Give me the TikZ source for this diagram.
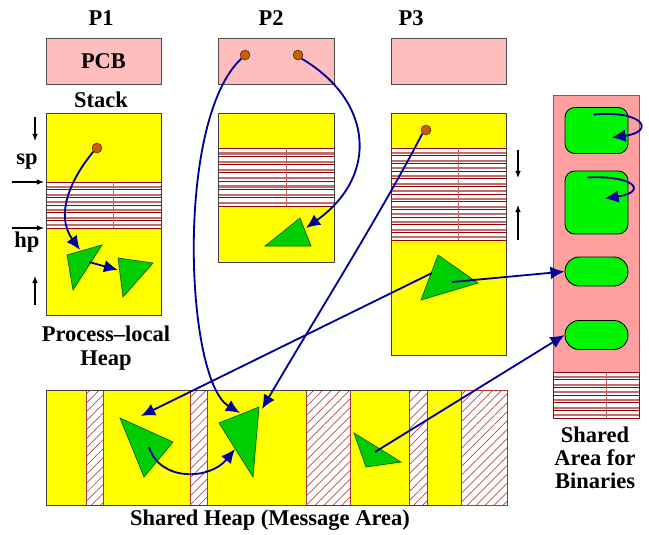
\documentclass[tikz,border=0pt]{standalone}
\usepackage{fontspec}
\setmainfont{Liberation Serif}
\newfontfamily\lblfont[Ligatures=TeX]{Liberation Serif}
\usepackage{tikz}
\usetikzlibrary{arrows.meta, patterns.meta, calc}
\definecolor{pcbPink}{RGB}{255,190,190}
\definecolor{binPink}{RGB}{255,160,160}
\definecolor{heapYellow}{RGB}{255,255,0}
\definecolor{objGreen}{RGB}{0,205,0}
\definecolor{codeGreen}{RGB}{0,245,0}
\definecolor{dotOrange}{RGB}{200,95,0}
\definecolor{ptrBlue}{RGB}{0,0,150}
\definecolor{stripeRed}{RGB}{150,0,0}
\definecolor{stripeLight}{RGB}{190,110,110}

\tikzset{
    lbl/.style={font=\lblfont\bfseries\fontsize{16}{16.5}\selectfont, align=center},
    pcbbox/.style={fill=pcbPink, draw=black!70, line width=0.6pt},
    memarea/.style={fill=heapYellow, draw=black!75, line width=0.6pt},
    freearea/.style={preaction={fill=white}, pattern={Lines[angle=45, distance=4.5pt, line width=0.5pt]}, pattern color=stripeRed!70, draw=stripeRed!80},
    obj/.style={fill=objGreen, draw=black!60!green, line width=0.5pt},
    ptrdot/.style={circle, fill=dotOrange, draw=black!60!dotOrange, inner sep=0pt, minimum size=7pt},
    bincode/.style={fill=codeGreen, draw=black, line width=0.6pt, inner sep=0pt},
    ptr/.style={ptrBlue, line width=1.3pt, -{Latex[length=10pt,width=9pt]}},
    mark arrow/.style={black, line width=0.8pt, -{Latex[length=5pt,width=4pt]}},
}

% striped (stack) region: x1 x2 y1 y2 n
\newcommand{\stackstripes}[5]{%
    \fill[white] (#1,#3) rectangle (#2,#4);
    \foreach \k in {1,...,#5}{
        \draw[stripeLight, line width=1.6pt] (#1,{#3+(\k-0.35)*(#4-#3)/#5}) -- (#2,{#3+(\k-0.35)*(#4-#3)/#5});
    }
    \foreach \k in {0,...,#5}{
        \draw[stripeRed, line width=0.7pt] (#1,{#3+\k*(#4-#3)/#5}) -- (#2,{#3+\k*(#4-#3)/#5});
    }
    \draw[stripeRed!60, line width=0.2pt] ({(#1+#2)/2+10},#3) -- ({(#1+#2)/2+10},#4);
}

\begin{document}
\begin{tikzpicture}[x=0.025cm, y=-0.025cm]
    \useasboundingbox (0,0) rectangle (649,534);

    % process names and PCBs
    \node[lbl] (p1) at (101,18) {P1};
    \node[lbl] (p2) at (271,18) {P2};
    \node[lbl] (p3) at (411,18) {P3};
    \draw[pcbbox] (46,38) rectangle (161,84);
    \draw[pcbbox] (218,38) rectangle (334,84);
    \draw[pcbbox] (391,38) rectangle (506,84);
    \node[lbl] (pcb) at (103.5,61) {PCB};
    \node[lbl] (stack) at (101,100) {Stack};

    % P1 stack and heap
    \draw[memarea] (46,113) rectangle (161,315);
    \stackstripes{46}{161}{182}{228}{6}
    \draw[black!75, line width=0.6pt] (46,113) rectangle (161,315);
    % P2
    \draw[memarea] (218,113) rectangle (334,262);
    \stackstripes{218}{334}{148}{206}{7}
    \draw[black!75, line width=0.6pt] (218,113) rectangle (334,262);
    % P3
    \draw[memarea] (391,113) rectangle (506,355);
    \stackstripes{391}{506}{148}{240}{12}
    \draw[black!75, line width=0.6pt] (391,113) rectangle (506,355);

    % sp / hp markers
    \node[lbl] (sp) at (27,162) {sp};
    \node[lbl] (hp) at (27,242) {hp};
    \coordinate (spT) at (44,182);
    \coordinate (hpT) at (44,228);
    \draw[mark arrow] (12,182) -- (spT);
    \draw[mark arrow] (12,228) -- (hpT);
    \draw[mark arrow] (35,117) -- (35,141);
    \draw[mark arrow] (35,305) -- (35,276);
    \draw[mark arrow] (518,150) -- (518,178);
    \draw[mark arrow] (518,240) -- (518,205);

    \node[lbl] (localheap) at (106,348) {Process–local\\Heap};

    % shared area for binaries
    \draw[fill=binPink, draw=black!60, line width=0.6pt] (553,95) rectangle (639,418);
    \stackstripes{553}{639}{372}{418}{6}
    \draw[stripeRed, line width=0.6pt] (553,372) rectangle (639,418);
    \node[bincode, rounded corners=7pt, minimum width=1.575cm, minimum height=1.15cm] (b1) at (596.5,130.5) {};
    \node[bincode, rounded corners=7pt, minimum width=1.575cm, minimum height=1.575cm] (b2) at (596.5,202.5) {};
    \node[bincode, rounded corners=10pt, minimum width=1.575cm, minimum height=0.725cm] (b3) at (596.5,271.5) {};
    \node[bincode, rounded corners=10pt, minimum width=1.575cm, minimum height=0.725cm] (b4) at (596.5,335) {};
    \node[lbl] (binlbl) at (595,458) {Shared\\Area for\\Binaries};

    % shared heap
    \draw[memarea] (46,390) rectangle (507,505);
    \foreach \a/\b in {86/103, 190/207, 306/350, 409/427, 461/507}{
        \draw[freearea] (\a,390) rectangle (\b,505);
    }
    \draw[black!75, line width=0.6pt] (46,390) -- (461,390) (46,390) -- (46,505) -- (461,505);
    \node[lbl] (sharedlbl) at (270,520) {Shared Heap (Message Area)};

    % objects
    \draw[obj] (67,255) -- (102,245) -- (73,290) -- cycle;
    \draw[obj] (118,258) -- (153,263) -- (123,297) -- cycle;
    \draw[obj] (300,218) -- (311,246) -- (265,246) -- cycle;
    \draw[obj] (438,255) -- (478,283) -- (421,300) -- cycle;
    \draw[obj] (120,418) -- (173,442) -- (144,477) -- cycle;
    \draw[obj] (219,423) -- (259,407) -- (253,477) -- cycle;
    \draw[obj] (354,433) -- (401,462) -- (366,467) -- cycle;

    % pointers
    \node[ptrdot] (d1) at (97,148) {};
    \node[ptrdot] (d2) at (245,55) {};
    \node[ptrdot] (d3) at (298,55) {};
    \node[ptrdot] (d4) at (426,130) {};
    \coordinate (o1) at (80,250);
    \coordinate (o1s) at (89,262);
    \coordinate (o2) at (118,270);
    \coordinate (o3) at (306,228);
    \coordinate (o4a) at (432,273);
    \coordinate (o4b) at (452,282);
    \coordinate (s1) at (141,416);
    \coordinate (s1s) at (149,447);
    \coordinate (s2a) at (240,413);
    \coordinate (s2b) at (262,409);
    \coordinate (s2c) at (235,449);
    \coordinate (s3) at (375,452);

    \draw[ptr] (d1.south west) .. controls (70,180) and (55,215) .. (o1);
    \draw[ptr] (o1s) -- (o2);
    \draw[ptr] (d3.south east) .. controls (372,100) and (380,175) .. (o3);
    \draw[ptr] (d2.south west) .. controls (175,120) and (185,380) .. (s2a);
    \draw[ptr] (d4.south west) .. controls (380,215) and (320,310) .. (s2b);
    \draw[ptr] (o4a) -- (s1);
    \draw[ptr] (o4b) -- (b3.west);
    \draw[ptr] (s3) -- (b4.west);
    \draw[ptr] (s1s) .. controls (160,482) and (210,480) .. (s2c);
    \draw[ptr] ($(b1.center)+(-3,-16)$) .. controls (645,110) and (655,132) .. ($(b1.center)+(15,7)$);
    \draw[ptr] ($(b2.center)+(-9,-25)$) .. controls (635,175) and (648,192) .. ($(b2.center)+(8,-4)$);
\end{tikzpicture}
\end{document}
